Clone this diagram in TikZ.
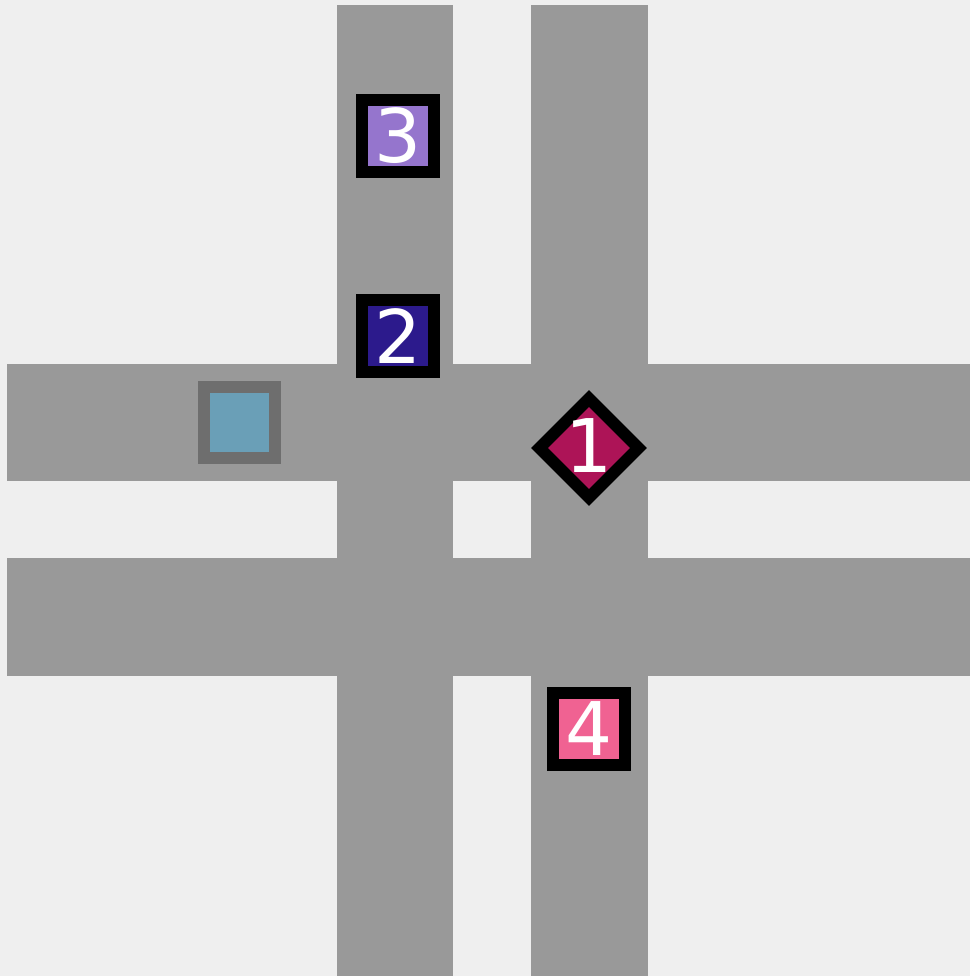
\documentclass[tikz,border=0pt]{standalone}
\usepackage{fontspec}
\setmainfont{DejaVu Sans}
\definecolor{bg}{HTML}{EFEFEF}
\definecolor{road}{HTML}{999999}
\definecolor{cthree}{HTML}{9575CD}
\definecolor{ctwo}{HTML}{2C1A8C}
\definecolor{cone}{HTML}{AD1457}
\definecolor{cfour}{HTML}{F06292}
\definecolor{cbluefill}{HTML}{6A9FB7}
\definecolor{cblueedge}{HTML}{6E6E6E}
\tikzset{
  roadrect/.style={fill=road, draw=none},
  signbox/.style={draw=black, line width=12pt, minimum size=72pt, inner sep=0pt,
    text=white, font=\fontsize{74}{74}\selectfont},
  digit/.style={text=white, inner sep=0pt, font=\fontsize{74}{74}\selectfont}
}
\begin{document}
\begin{tikzpicture}[x=1pt, y=-1pt]
  \fill[bg] (0,0) rectangle (970,976);
  \useasboundingbox (0,0) rectangle (970,976);
  % roads
  \fill[roadrect] (337,5) rectangle (453,976);
  \fill[roadrect] (531,5) rectangle (648,976);
  \fill[roadrect] (7,364) rectangle (970,481);
  \fill[roadrect] (7,558) rectangle (970,676);
  % signals
  \node[signbox, fill=cthree] (s3) at (398,136) {3};
  \node[signbox, fill=ctwo] (s2) at (398,336) {2};
  \node[draw=cblueedge, fill=cbluefill, line width=12pt, minimum size=71pt, inner sep=0pt] (sb) at (239,422) {};
  \node[signbox, fill=cfour] (s4) at (589,729) {4};
  \draw[black, line width=12pt, fill=cone, line join=miter]
    (589,398.5) -- (638.5,448) -- (589,497.5) -- (539.5,448) -- cycle;
  \node[digit] (s1) at (589,446) {1};
\end{tikzpicture}
\end{document}
